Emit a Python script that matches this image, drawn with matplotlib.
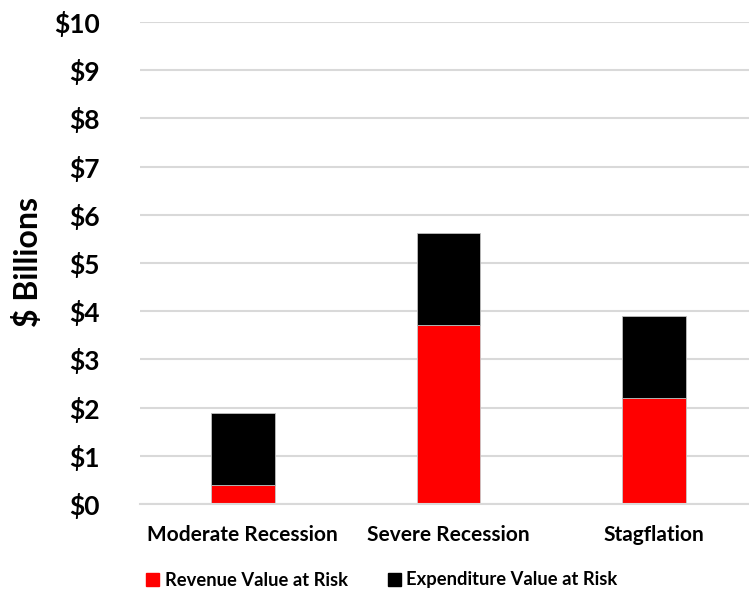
import numpy as np
import matplotlib.pyplot as plt
from matplotlib.patches import Patch

# scenario values, $ billions
scenarios = ["Moderate Recession", "Severe Recession", "Stagflation"]
revenue_risk = [0.40, 3.72, 2.19]
expenditure_risk = [1.49, 1.91, 1.71]
y_ticks = np.arange(0, 11)
y_tick_labels = [f"${v}" for v in y_ticks]

plt.rcParams['font.family'] = ['Lato', 'DejaVu Sans']
plt.rcParams['font.weight'] = 'bold'

fig = plt.figure(figsize=(7.49, 5.90), dpi=100)
W, H = 749, 590
# axes in pixel terms: left 140, right 757, top 22, bottom 504
ax = fig.add_axes([140 / W, 1 - 504 / H, 617 / W, 482 / H])

x = np.arange(len(scenarios))
bar_w = 0.31
ax.bar(x, revenue_risk, bar_w, color='#FF0000', edgecolor='#C8C8C8',
       linewidth=0.6, zorder=3, label='Revenue Value at Risk')
ax.bar(x, expenditure_risk, bar_w, bottom=revenue_risk, color='#000000',
       edgecolor='#BFBFBF', linewidth=0.6, zorder=3,
       label='Expenditure Value at Risk')

ax.set_xlim(-0.5, 2.5)
ax.set_ylim(0, 10)
ax.set_yticks(y_ticks)
ax.set_yticklabels(y_tick_labels, fontsize=19, fontweight='bold')
ax.set_xticks(x)
ax.set_xticklabels(scenarios, fontsize=15, fontweight='bold')
ax.tick_params(axis='y', length=0, pad=29)
ax.tick_params(axis='x', length=0, pad=15)

ax.grid(axis='y', color='#D9D9D9', linewidth=1.5, zorder=0)
for s in ['top', 'right', 'left']:
    ax.spines[s].set_visible(False)
ax.spines['bottom'].set_color('#D9D9D9')
ax.spines['bottom'].set_linewidth(1.5)
ax.spines['bottom'].set_zorder(4)

fig.text(28 / W, 1 - 262 / H, "$ Billions", rotation=90, ha='center',
         va='center', fontsize=23, fontweight='bold')

handles = [Patch(color='#FF0000'), Patch(color='#000000')]
fig.legend(handles, ['Revenue Value at Risk', 'Expenditure Value at Risk'],
           loc='center', bbox_to_anchor=(382 / W, 1 - 580 / H), ncol=2,
           frameon=False, fontsize=13.2, handlelength=0.7, handleheight=0.7,
           handletextpad=0.3, columnspacing=2.2)

fig.savefig('out.png', dpi=100)
